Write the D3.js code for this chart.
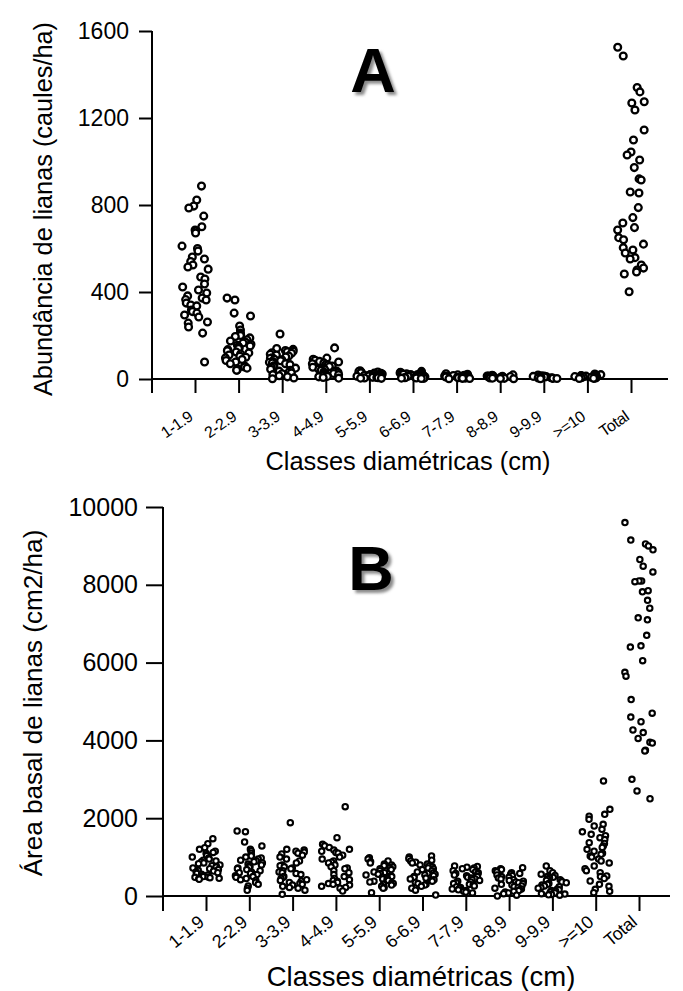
<!DOCTYPE html>
<html>
<head>
<meta charset="utf-8">
<script src="https://cdn.jsdelivr.net/npm/d3@7"></script>
<style>
  html, body { margin: 0; padding: 0; background: #fff; }
  svg { display: block; font-family: "Liberation Sans", Arial, sans-serif; }
</style>
</head>
<body>
<svg id="chart" width="683" height="991"></svg>
<script>
// Diameter classes (cm) shown on both panels
const classes = ["1-1.9", "2-2.9", "3-3.9", "4-4.9", "5-5.9", "6-6.9", "7-7.9", "8-8.9", "9-9.9", ">=10", "Total"];

// Panel A: liana abundance (stems/ha) per plot, one array per class
const abund_1 = [887, 823, 795, 786, 749, 700, 685, 680, 671, 611, 600, 588, 561, 552, 540, 524, 515, 505, 469, 460, 437, 423, 409, 395, 382, 372, 365, 363, 349, 340, 336, 317, 310, 303, 294, 285, 262, 257, 239, 211, 78];
const abund_2 = [372, 363, 303, 290, 244, 225, 211, 205, 200, 195, 189, 180, 175, 170, 166, 160, 155, 152, 148, 143, 140, 135, 130, 124, 120, 115, 110, 105, 100, 97, 90, 85, 78, 70, 60, 55, 50, 46, 41, 40];
const abund_3 = [207, 140, 136, 131, 128, 125, 121, 118, 114, 110, 106, 101, 98, 95, 91, 88, 84, 80, 77, 74, 70, 66, 61, 58, 54, 50, 45, 40, 36, 31, 28, 24, 20, 15, 10, 5, 1];
const abund_4 = [143, 96, 91, 86, 81, 78, 74, 70, 67, 64, 60, 57, 54, 50, 48, 45, 42, 40, 37, 35, 32, 30, 27, 25, 22, 20, 17, 15, 12, 10, 7, 4];
const abund_5 = [38, 35, 32, 31, 29, 27, 26, 24, 23, 21, 20, 19, 18, 17, 16, 15, 14, 13, 12, 11, 10, 9, 8, 7, 6, 5, 4, 3];
const abund_6 = [35, 31, 28, 26, 25, 24, 22, 21, 20, 19, 18, 17, 16, 15, 14, 13, 12, 11, 10, 9, 8, 7, 6, 5, 4, 3, 2];
const abund_7 = [24, 22, 19, 17, 16, 15, 14, 13, 12, 11, 10, 9, 8, 7, 6, 5, 4, 3, 2, 1];
const abund_8 = [19, 17, 15, 14, 13, 12, 11, 10, 9, 8, 7, 6, 5, 4, 3, 2, 1];
const abund_9 = [18, 15, 13, 12, 11, 10, 9, 8, 7, 6, 5, 4, 3, 2, 1];
const abund_10 = [23, 20, 18, 16, 15, 14, 13, 12, 11, 10, 9, 8, 7, 6, 5, 4, 3, 2];
const abund_total = [1525, 1485, 1340, 1320, 1275, 1269, 1237, 1145, 1099, 1044, 1030, 1007, 972, 920, 915, 860, 855, 788, 742, 717, 696, 685, 650, 640, 620, 604, 593, 579, 558, 552, 524, 510, 501, 492, 483, 401];

// Panel B: liana basal area (cm2/ha) per plot, one array per class
const basal_1 = [1474, 1345, 1243, 1200, 1150, 1120, 1100, 1060, 1040, 1000, 980, 950, 920, 900, 880, 850, 830, 800, 780, 760, 740, 720, 700, 680, 660, 640, 620, 600, 580, 560, 540, 520, 500, 490, 480, 470, 455, 445, 430];
const basal_2 = [1671, 1654, 1388, 1286, 1200, 1157, 1100, 1050, 1028, 1000, 980, 950, 920, 900, 880, 850, 820, 800, 780, 760, 740, 720, 700, 680, 650, 620, 600, 580, 550, 520, 500, 480, 450, 420, 400, 350, 300, 257, 200, 146];
const basal_3 = [1885, 1200, 1180, 1150, 1130, 1100, 1080, 1050, 1000, 950, 900, 850, 800, 780, 750, 720, 700, 650, 620, 600, 580, 550, 500, 480, 450, 420, 400, 380, 350, 320, 300, 280, 250, 220, 200, 150, 43];
const basal_4 = [2297, 1500, 1328, 1290, 1250, 1200, 1180, 1150, 1120, 1100, 1050, 1000, 950, 900, 870, 850, 800, 750, 720, 700, 650, 600, 550, 500, 450, 420, 400, 380, 350, 320, 300, 280, 250, 220, 200, 129];
const basal_5 = [986, 950, 900, 880, 850, 820, 800, 780, 750, 720, 700, 680, 650, 620, 600, 580, 560, 540, 520, 500, 480, 460, 440, 420, 400, 380, 360, 340, 320, 300, 280, 250, 220, 200, 86];
const basal_6 = [1028, 1000, 960, 920, 900, 870, 850, 820, 800, 780, 750, 720, 700, 680, 650, 620, 600, 580, 560, 540, 520, 500, 480, 460, 440, 420, 400, 380, 350, 320, 300, 280, 250, 200, 150, 26];
const basal_7 = [771, 760, 740, 720, 700, 680, 650, 620, 600, 580, 560, 540, 520, 500, 480, 460, 440, 420, 400, 380, 360, 340, 320, 300, 280, 260, 240, 220, 200, 180, 160, 140, 120, 100, 80];
const basal_8 = [728, 700, 680, 650, 620, 600, 580, 560, 540, 520, 500, 480, 460, 440, 420, 400, 380, 360, 340, 320, 300, 280, 260, 240, 220, 200, 180, 160, 140, 120, 100, 80, 60, 20, 0];
const basal_9 = [771, 650, 600, 560, 530, 500, 480, 460, 440, 420, 400, 380, 360, 340, 320, 300, 280, 260, 240, 220, 200, 180, 160, 140, 120, 100, 80, 60, 50, 40, 30, 20];
const basal_10 = [2957, 2228, 2100, 2050, 1971, 1843, 1800, 1714, 1650, 1586, 1550, 1500, 1450, 1371, 1350, 1286, 1250, 1200, 1150, 1100, 1071, 1028, 1000, 950, 900, 850, 771, 700, 650, 600, 514, 500, 450, 386, 300, 250, 171, 120, 86];
const basal_total = [9600, 9150, 9050, 9000, 8900, 8650, 8480, 8330, 8100, 8100, 8080, 7850, 7820, 7600, 7400, 7150, 7100, 6700, 6430, 6400, 6050, 5750, 5650, 5050, 4700, 4600, 4480, 4270, 4200, 4050, 3950, 3930, 3750, 3730, 3000, 2700, 2500];

const abundanceByClass = [abund_1, abund_2, abund_3, abund_4, abund_5, abund_6, abund_7, abund_8, abund_9, abund_10, abund_total];
const basalByClass = [basal_1, basal_2, basal_3, basal_4, basal_5, basal_6, basal_7, basal_8, basal_9, basal_10, basal_total];

const ticksA = [0, 400, 800, 1200, 1600];
const ticksB = [0, 2000, 4000, 6000, 8000, 10000];

const svg = d3.select("#chart");

// Soft drop shadow behind the panel letters
const defs = svg.append("defs");
const f = defs.append("filter").attr("id", "soft").attr("x", "-20%").attr("y", "-20%").attr("width", "140%").attr("height", "140%");
f.append("feGaussianBlur").attr("stdDeviation", 1.6);

// Deterministic horizontal scatter within a class column
function spread(i, ci) {
  const s = Math.sin((i + 1) * 12.9898 + (ci + 1) * 78.233) * 43758.5453;
  return s - Math.floor(s);
}

function panel(cfg) {
  const g = svg.append("g");
  const y = d3.scaleLinear().domain(cfg.yDomain).range([cfg.y0, cfg.y1]);
  const x = d3.scalePoint().domain(classes).range([cfg.xFirst, cfg.xLast]);
  const step = x.step();

  // y axis
  const yAxis = d3.axisLeft(y).tickValues(cfg.ticks).tickSize(cfg.yTick).tickPadding(cfg.yPad).tickFormat(d3.format("d"));
  const ya = g.append("g").attr("transform", `translate(${cfg.xAxisStart},0)`).call(yAxis);
  ya.select(".domain").remove();
  ya.selectAll(".tick line").attr("stroke", "#000").attr("stroke-width", 2);
  ya.selectAll(".tick text").attr("fill", "#000").style("font-size", cfg.yFont + "px")
    .style("font-family", '"Liberation Sans", Arial, sans-serif');
  g.append("line").attr("x1", cfg.xAxisStart).attr("x2", cfg.xAxisStart)
    .attr("y1", y(cfg.yDomain[1])).attr("y2", cfg.y0 + cfg.xTick)
    .attr("stroke", "#000").attr("stroke-width", 2);

  // x axis
  const xAxis = d3.axisBottom(x).tickSize(cfg.xTick).tickFormat("");
  const xa = g.append("g").attr("transform", `translate(0,${cfg.y0})`).call(xAxis);
  xa.select(".domain").remove();
  xa.selectAll(".tick line").attr("stroke", "#000").attr("stroke-width", 2);
  g.append("line").attr("x1", cfg.xAxisStart - 1).attr("x2", cfg.xAxisEnd)
    .attr("y1", cfg.y0).attr("y2", cfg.y0).attr("stroke", "#000").attr("stroke-width", 2);

  // rotated class labels
  g.selectAll("text.cls").data(classes).join("text")
    .attr("class", "cls")
    .attr("transform", d => `translate(${x(d) + cfg.lblDx},${cfg.y0 + cfg.lblDy}) rotate(${cfg.lblAngle})`)
    .attr("text-anchor", "end")
    .style("font-size", cfg.lblFont + "px")
    .style("letter-spacing", "-0.4px")
    .text(d => d);

  // axis titles
  g.append("text").attr("x", cfg.xTitleX).attr("y", cfg.xTitleY).attr("text-anchor", "middle")
    .style("font-size", cfg.xTitleFont + "px").text("Classes diamétricas (cm)");
  g.append("text").attr("transform", `translate(${cfg.yTitleX},${cfg.yTitleY}) rotate(-90)`)
    .attr("text-anchor", "middle").style("font-size", cfg.yTitleFont + "px").text(cfg.yTitle);

  // panel letter with shadow
  g.append("text").attr("x", cfg.letterX + 3).attr("y", cfg.letterY + 3).attr("text-anchor", "middle")
    .attr("fill", "#8a8a8a").attr("filter", "url(#soft)")
    .style("font-size", "63px").style("font-weight", "bold").text(cfg.letter);
  g.append("text").attr("x", cfg.letterX).attr("y", cfg.letterY).attr("text-anchor", "middle")
    .attr("fill", "#000").style("font-size", "63px").style("font-weight", "bold").text(cfg.letter);

  // jittered plot points
  const pts = [];
  cfg.values.forEach((arr, ci) => {
    arr.forEach((v, i) => {
      pts.push({ cls: classes[ci], v, off: (spread(i, ci) - 0.5) * step * cfg.jitter });
    });
  });
  g.selectAll("circle.pt").data(pts).join("circle")
    .attr("class", "pt")
    .attr("cx", d => x(d.cls) + d.off)
    .attr("cy", d => y(d.v))
    .attr("r", cfg.r)
    .attr("fill", "#fff")
    .attr("stroke", "#000")
    .attr("stroke-width", cfg.sw);
}

panel({
  values: abundanceByClass, yDomain: [0, 1600], ticks: ticksA,
  y0: 379, y1: 31, xFirst: 195, xLast: 631, xAxisStart: 152, xAxisEnd: 668,
  yTick: 13, yPad: 10, yFont: 23, xTick: 14,
  lblDx: -1, lblDy: 40, lblAngle: -35, lblFont: 16,
  xTitleX: 408, xTitleY: 470, xTitleFont: 25.4,
  yTitleX: 52, yTitleY: 209, yTitleFont: 25.3, yTitle: "Abundância de lianas (caules/ha)",
  letter: "A", letterX: 373, letterY: 92,
  jitter: 0.62, r: 3.4, sw: 2.3
});

panel({
  values: basalByClass, yDomain: [0, 10000], ticks: ticksB,
  y0: 896, y1: 507, xFirst: 206, xLast: 639, xAxisStart: 163, xAxisEnd: 670,
  yTick: 17, yPad: 8, yFont: 25, xTick: 15,
  lblDx: -1, lblDy: 28, lblAngle: -40, lblFont: 18,
  xTitleX: 421, xTitleY: 986, xTitleFont: 27.5,
  yTitleX: 42, yTitleY: 703, yTitleFont: 26.1, yTitle: "Área basal de lianas (cm2/ha)",
  letter: "B", letterX: 371, letterY: 590,
  jitter: 0.66, r: 2.7, sw: 2.1
});
</script>
</body>
</html>
